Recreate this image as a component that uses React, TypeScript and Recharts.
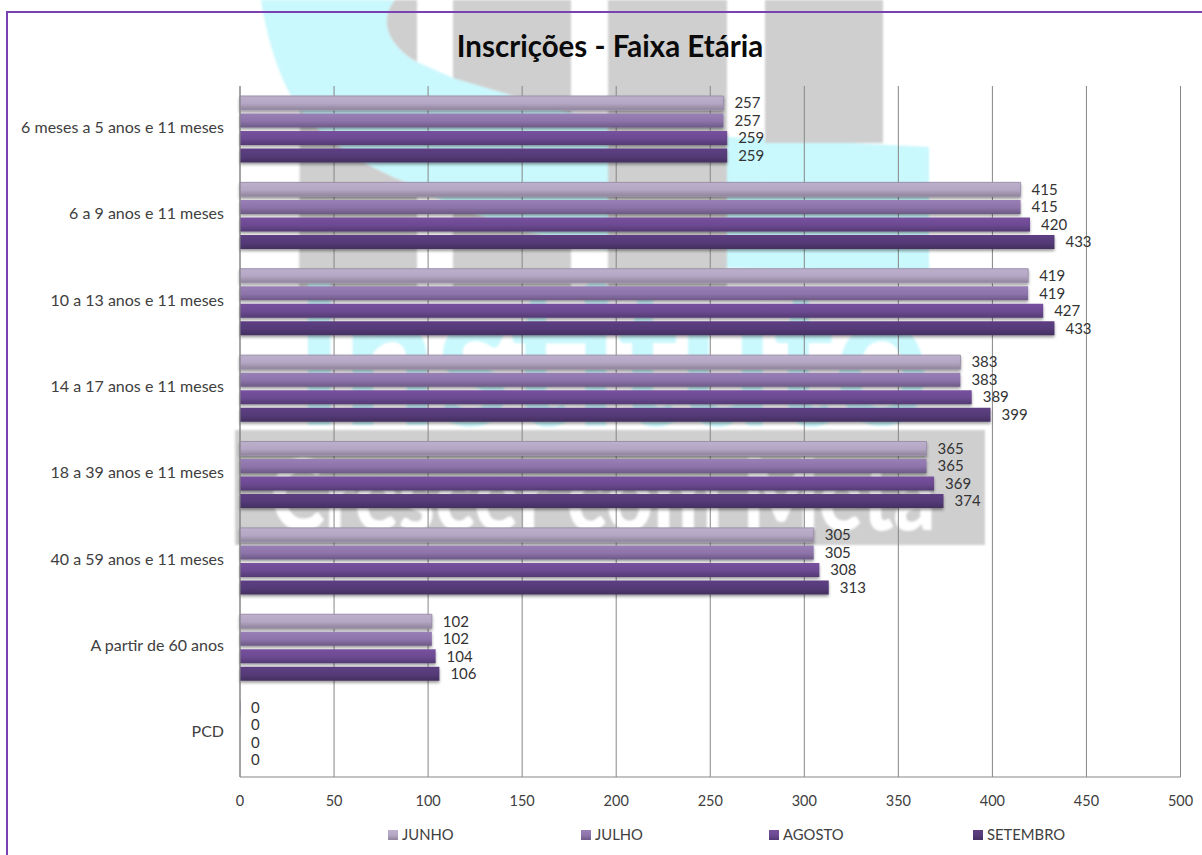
import React from "react";
import { BarChart, Bar, XAxis, YAxis, CartesianGrid, LabelList, Legend } from "recharts";

const categories = [
  "6 meses a 5 anos e 11 meses",
  "6 a 9 anos e 11 meses",
  "10 a 13 anos e 11 meses",
  "14 a 17 anos e 11 meses",
  "18 a 39 anos e 11 meses",
  "40 a 59 anos e 11 meses",
  "A partir de 60 anos ",
  "PCD",
];
const junho = [257, 415, 419, 383, 365, 305, 102, 0];
const julho = [257, 415, 419, 383, 365, 305, 102, 0];
const agosto = [259, 420, 427, 389, 369, 308, 104, 0];
const setembro = [259, 433, 433, 399, 374, 313, 106, 0];
const xTicks = [0, 50, 100, 150, 200, 250, 300, 350, 400, 450, 500];

const rows = categories.map((name, i) => ({
  name,
  JUNHO: junho[i],
  JULHO: julho[i],
  AGOSTO: agosto[i],
  SETEMBRO: setembro[i],
}));

const FONT = "Lato, 'Open Sans', sans-serif";
const seriesStyle = [
  { key: "JUNHO", id: "gJun", top: "#bdb0cd", mid: "#b3a5c3", bottom: "#8d8399", legendX: 388 },
  { key: "JULHO", id: "gJul", top: "#9880b6", mid: "#8d73aa", bottom: "#6c5a85", legendX: 581 },
  { key: "AGOSTO", id: "gAgo", top: "#77519e", mid: "#6c4a92", bottom: "#533a72", legendX: 769 },
  { key: "SETEMBRO", id: "gSet", top: "#5e3f82", mid: "#553a78", bottom: "#43305f", legendX: 973 },
];

const GREY = "#cfcfcf";
const CYAN = "#c9f8fd";

const Watermark = () => (
  <svg width={1202} height={855} style={{ position: "absolute", left: 0, top: 0 }}>
    <defs>
      <filter id="blurWm" x="-5%" y="-5%" width="110%" height="110%">
        <feGaussianBlur stdDeviation="1.2" />
      </filter>
    </defs>
    <g filter="url(#blurWm)">
      <path d="M261 0 C 268 45 282 85 300 110 C 330 145 365 165 400 180 L 452 205 L 523 231 L 608 250 L 726 268 L 929 272 L 929 147 L 727 137 L 608 122 L 571 113 L 453 78 L 417 62 C 395 50 375 25 395 0 Z" fill={CYAN} />
      <path d="M395 0 C 375 25 395 50 417 62 L 417 0 Z" fill={GREY} />
      <path d="M300 110 C 330 145 365 165 400 180 L 417 188 L 417 290 L 299 290 Z" fill={GREY} />
      <path d="M453 0 L 571 0 L 571 113 L 453 78 Z" fill={GREY} />
      <path d="M453 206 L 523 231 L 571 242 L 571 290 L 453 290 Z" fill={GREY} />
      <rect x="608" y="0" width="119" height="290" fill={GREY} />
      <rect x="765" y="0" width="118" height="143" fill={GREY} />
      <text x="612" y="425" textAnchor="middle" fontFamily="Lato" fontWeight={700} fontSize={196} textLength={635} lengthAdjust="spacingAndGlyphs" fill={CYAN}>Instituto</text>
      <rect x="235" y="430" width="750" height="115" fill={GREY} />
      <text x="603" y="530" textAnchor="middle" fontFamily="Lato" fontWeight={900} fontSize={100} textLength={665} lengthAdjust="spacingAndGlyphs" fill="#ffffff">Crescer com Meta</text>
    </g>
  </svg>
);

const LegendItems = ({ payload }: any) => (
  <svg width={1202} height={30} style={{ display: "block" }}>
    {(payload || []).map((p: any) => {
      const s = seriesStyle.find((x) => x.key === p.value)!;
      return (
        <g key={p.value}>
          <rect x={s.legendX} y={5} width={10} height={10} fill={`url(#${s.id})`} />
          <text x={s.legendX + 14} y={15} fontSize={14.8} fontFamily={FONT} fill="#404040">{p.value}</text>
        </g>
      );
    })}
  </svg>
);

export default function App() {
  return (
    <div style={{ position: "absolute", left: 0, top: 0, width: 1202, height: 855, background: "#fff", overflow: "hidden" }}>
      <Watermark />
      <div style={{ position: "absolute", left: 6, top: 11, width: 1196, height: 844, borderLeft: "2px solid #7a42b0", borderTop: "2px solid #7a42b0", boxSizing: "border-box" }} />
      <div style={{ position: "absolute", left: 240, width: 740, top: 27, textAlign: "center", fontFamily: FONT, fontWeight: 700, fontSize: 29.5, lineHeight: "38px", color: "#0a0a0a" }}>
        Inscrições - Faixa Etária
      </div>
      <div style={{ position: "absolute", left: 0, top: 0 }}>
        <BarChart
          width={1202}
          height={855}
          data={rows}
          layout="vertical"
          margin={{ top: 86, right: 21.5, bottom: 18, left: 0 }}
          barSize={14}
          barGap={3.5}
          barCategoryGap={10}
        >
          <defs>
            {seriesStyle.map((s) => (
              <linearGradient key={s.id} id={s.id} x1="0" y1="0" x2="0" y2="1">
                <stop offset="0%" stopColor={s.top} />
                <stop offset="55%" stopColor={s.mid} />
                <stop offset="100%" stopColor={s.bottom} />
              </linearGradient>
            ))}
            <filter id="barShadow" x="-2%" y="-20%" width="104%" height="160%">
              <feDropShadow dx="0" dy="2" stdDeviation="1.5" floodColor="#000" floodOpacity="0.4" />
            </filter>
          </defs>
          <CartesianGrid horizontal={false} stroke="#868686" strokeWidth={1} />
          <XAxis
            type="number"
            domain={[0, 500]}
            ticks={xTicks}
            interval={0}
            tickLine={false}
            axisLine={{ stroke: "#868686" }}
            tick={{ fontSize: 14.5, fontFamily: FONT, fill: "#404040" }}
            tickMargin={13}
          />
          <YAxis
            type="category"
            dataKey="name"
            width={240}
            interval={0}
            tickLine={false}
            axisLine={{ stroke: "#868686" }}
            tick={{ fontSize: 16, fontFamily: FONT, fill: "#404040", dy: -2 }}
            tickMargin={10}
          />
          <Legend verticalAlign="bottom" align="left" itemSorter={null as any} wrapperStyle={{ left: 0, bottom: 0, width: 1202 }} content={<LegendItems />} />
          {seriesStyle.map((s) => (
            <Bar key={s.key} dataKey={s.key} fill={`url(#${s.id})`} stroke={s.key === "JUNHO" ? "#9c90aa" : "none"} filter="url(#barShadow)" minPointSize={0.01} isAnimationActive={false}>
              <LabelList dataKey={s.key} position="right" offset={11} style={{ fontSize: 15, fontFamily: FONT, fill: "#333333" }} />
            </Bar>
          ))}
        </BarChart>
      </div>
    </div>
  );
}
